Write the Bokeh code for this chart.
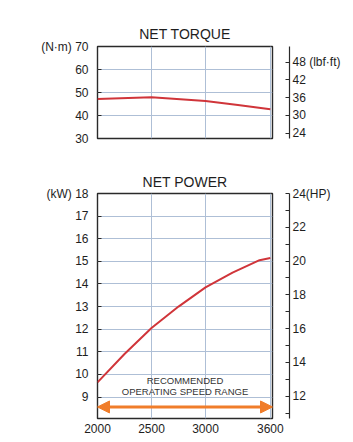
from bokeh.plotting import figure
from bokeh.models import (Range1d, LinearAxis, FixedTicker, Label, Arrow, NormalHead)
from bokeh.layouts import column
from bokeh.embed import file_html
from bokeh.resources import INLINE

# ---- data ----
torque_rpm = [2000, 2500, 3000, 3300, 3600]
torque_nm = [47.2, 47.9, 46.3, 44.6, 42.7]

power_rpm = [2000, 2250, 2500, 2750, 3000, 3250, 3500, 3600]
power_kw = [9.65, 10.9, 12.05, 13.0, 13.85, 14.5, 15.05, 15.15]

x_ticks = [2000, 2500, 3000, 3600]
x_grid = [2500, 3000, 3600]
torque_ticks = [30, 40, 50, 60, 70]
torque_grid = [40, 50, 60]
lbf_ticks = [24, 30, 36, 42, 48]
kw_ticks = [9, 10, 11, 12, 13, 14, 15, 16, 17, 18]
kw_grid = [9, 10, 11, 12, 13, 14, 15, 16, 17]
hp_ticks = [12, 14, 16, 18, 20, 22, 24]
hp_minor = [11, 13, 15, 17, 19, 21, 23]
speed_range = [2000, 3620]

FONT = "Liberation Sans"
RED = "#d0353a"
ORANGE = "#f07d2a"
GRID = "#aebfd6"
FRAME = "#2a2a2a"
TXT = "#1e1e1e"
XR = (2000, 3620)


def base_fig(height, top, bottom, yr, title, standoff):
    p = figure(width=353, height=height, x_range=Range1d(*XR), y_range=Range1d(*yr),
               output_backend="svg", toolbar_location=None,
               min_border_left=97, min_border_right=81,
               min_border_top=top, min_border_bottom=bottom)
    p.title.text = title
    p.title.align = "center"
    p.title.text_font = FONT
    p.title.text_font_size = "14px"
    p.title.text_font_style = "normal"
    p.title.text_color = TXT
    p.title.standoff = standoff
    p.outline_line_color = FRAME
    p.outline_line_width = 1.4
    p.background_fill_color = "white"
    p.border_fill_color = "white"
    p.xgrid.ticker = FixedTicker(ticks=x_grid)
    p.xgrid.grid_line_color = GRID
    p.ygrid.grid_line_color = GRID
    for ax in p.yaxis:
        ax.axis_line_color = None
        ax.major_tick_in = 4
        ax.major_tick_out = 0
        ax.minor_tick_line_color = None
        ax.major_tick_line_color = FRAME
        ax.major_label_standoff = 9
        ax.major_label_text_font = FONT
        ax.major_label_text_font_size = "12px"
        ax.major_label_text_color = TXT
    return p


def add_right_axes(p, name, rng, ticks, overrides, spacer_tick, minor=None):
    p.extra_y_ranges = {name: Range1d(*rng)}
    # invisible spacer axis: leaves the gap between the frame and the right scale
    gap = LinearAxis(y_range_name=name, ticker=FixedTicker(ticks=[spacer_tick]),
                     axis_line_color=None, major_tick_out=0, major_tick_in=0,
                     major_tick_line_color=None, minor_tick_line_color=None,
                     major_label_standoff=1, major_label_text_font=FONT,
                     major_label_text_font_size="12px", major_label_text_color="white")
    p.add_layout(gap, "right")
    ax = LinearAxis(y_range_name=name,
                    ticker=FixedTicker(ticks=ticks, minor_ticks=minor or []),
                    axis_line_color=FRAME, axis_line_width=1.2,
                    major_tick_in=4, major_tick_out=0, minor_tick_in=4, minor_tick_out=0,
                    major_tick_line_color=FRAME, minor_tick_line_color=FRAME,
                    major_label_standoff=3, major_label_text_font=FONT,
                    major_label_text_font_size="12px", major_label_text_color=TXT,
                    major_label_overrides=overrides)
    p.add_layout(ax, "right")


# ---- top: torque ----
p1 = base_fig(160, 46, 22, (30, 70), "NET TORQUE", 10)
p1.yaxis.ticker = FixedTicker(ticks=torque_ticks)
p1.ygrid.ticker = FixedTicker(ticks=torque_grid)
p1.yaxis.major_label_overrides = {70: "(N·m) 70"}
p1.xaxis.visible = False
add_right_axes(p1, "lbf", (22.2, 53.3), lbf_ticks, {48: "48  (lbf·ft)"}, 30)
p1.line(torque_rpm, torque_nm, line_color=RED, line_width=2)

# ---- bottom: power ----
p2 = base_fig(282, 33, 24, (8.05, 18), "NET POWER", 8)
p2.yaxis.ticker = FixedTicker(ticks=kw_ticks)
p2.ygrid.ticker = FixedTicker(ticks=kw_grid)
p2.yaxis.major_label_overrides = {18: "(kW) 18"}
xa = p2.xaxis[0]
xa.ticker = FixedTicker(ticks=x_ticks)
xa.axis_line_color = None
xa.major_tick_line_color = None
xa.minor_tick_line_color = None
xa.major_tick_out = 0
xa.major_label_standoff = 5
xa.major_label_text_font = FONT
xa.major_label_text_font_size = "12px"
xa.major_label_text_color = TXT
add_right_axes(p2, "hp", (10.68, 24), hp_ticks, {24: "24(HP)"}, 16, hp_minor)
p2.line(power_rpm, power_kw, line_color=RED, line_width=2)

mid = (speed_range[0] + speed_range[1]) / 2
p2.add_layout(Label(x=mid, y=9.73, text="RECOMMENDED", text_align="center",
                    text_baseline="middle", text_font=FONT, text_font_size="9.5px",
                    text_color="#333333"))
p2.add_layout(Label(x=mid, y=9.23, text="OPERATING SPEED RANGE", text_align="center",
                    text_baseline="middle", text_font=FONT, text_font_size="9.5px",
                    text_color="#333333"))
head = dict(size=12, fill_color=ORANGE, line_color=ORANGE)
p2.add_layout(Arrow(x_start=speed_range[0], x_end=speed_range[1], y_start=8.56, y_end=8.56,
                    line_color=ORANGE, line_width=3,
                    start=NormalHead(**head), end=NormalHead(**head)))
p2.add_layout(Label(x=mid, y=-18, y_units="screen", text="ENGINE SPEED (rpm)",
                    text_align="center", text_baseline="top", text_font=FONT,
                    text_font_size="12px", text_color=TXT))

layout = column(p1, p2, spacing=0)
open("out.html", "w").write(file_html(layout, INLINE))
